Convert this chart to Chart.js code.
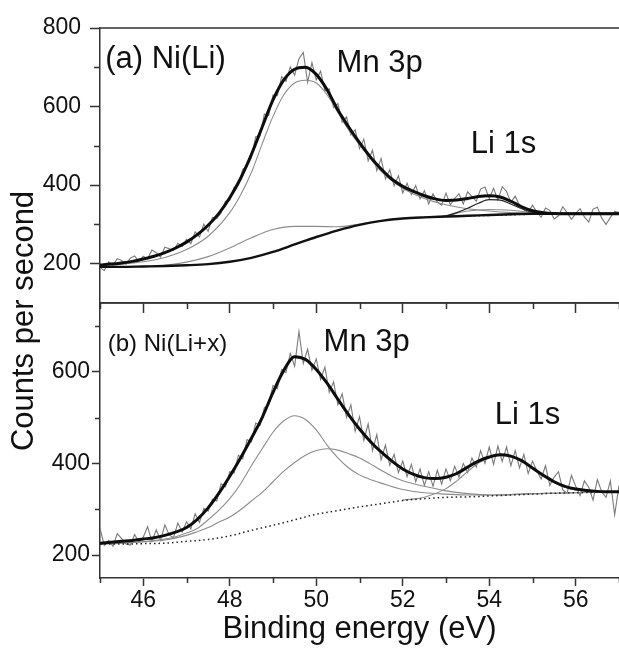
<!DOCTYPE html>
<html>
<head>
<meta charset="utf-8">
<script src="https://cdn.jsdelivr.net/npm/chart.js@4.4.1/dist/chart.umd.min.js"></script>
<style>
  html, body { margin: 0; padding: 0; background: #fff; }
  #wrap { position: relative; width: 619px; height: 650px; overflow: hidden; }
  #wrap canvas { position: absolute; left: 0; top: 0; }
</style>
</head>
<body>
<div id="wrap">
  <canvas id="panel-b" width="619" height="650"></canvas>
  <canvas id="panel-a" width="619" height="650"></canvas>
</div>
<script>
// measured spectra: one count every 0.1 eV starting at 45 eV
const rawStart = 45.0;
const rawStep = 0.1;

const rawA = [
  190, 183, 205, 196, 213, 208, 199, 214, 220, 206,
  219, 212, 235, 228, 217, 242, 238, 234, 252, 244,
  262, 251, 281, 268, 301, 282, 318, 315, 330, 359,
  361, 395, 400, 441, 447, 470, 523, 525, 581, 577,
  629, 628, 676, 664, 701, 680, 722, 738, 662, 712,
  668, 690, 640, 645, 598, 608, 560, 574, 528, 541,
  493, 517, 462, 489, 437, 468, 416, 439, 398, 424,
  380, 405, 376, 399, 365, 386, 352, 378, 357, 349,
  380, 350, 366, 378, 352, 383, 371, 359, 390, 395,
  366, 392, 362, 396, 384, 356, 372, 348, 337, 330,
  349, 331, 318, 342, 336, 314, 322, 345, 330, 313,
  328, 340, 319, 306, 339, 344, 316, 300, 318, 333,
  330
];

const rawB = [
  258, 221, 232, 219, 247, 236, 224, 222, 245, 228,
  239, 262, 230, 255, 232, 266, 244, 238, 270, 250,
  273, 257, 290, 271, 302, 296, 322, 318, 356, 349,
  382, 379, 418, 410, 452, 447, 488, 483, 522, 527,
  570, 563, 605, 598, 640, 612, 688, 618, 649, 603,
  628, 583, 610, 555, 578, 528, 552, 500, 528, 470,
  502, 450, 486, 428, 463, 408, 440, 396, 420, 380,
  405, 371, 398, 360, 388, 352, 382, 350, 385, 355,
  388, 362, 394, 370, 400, 380, 412, 392, 428, 400,
  436, 398, 438, 404, 436, 395, 428, 390, 420, 378,
  405, 384, 366, 395, 352, 370, 382, 342, 335, 374,
  350, 330, 362, 348, 320, 365, 338, 326, 362, 288,
  352
];

// (a) Ni(Li): fitted curves, [eV, counts]
const envelopeA = [[45,197],[45.25,199],[45.5,202],[45.75,206],[46,212],[46.25,219],[46.5,228],[46.75,240],[47,255],[47.25,274],[47.5,298],[47.75,328],[48,368],[48.25,417],[48.5,478],[48.75,548],[49,617],[49.25,668],[49.5,695],[49.75,700],[50,682],[50.25,643],[50.5,591],[50.75,548],[51,508],[51.25,472],[51.5,441],[51.75,415],[52,397],[52.25,384],[52.5,373],[52.75,365],[53,361],[53.25,362],[53.5,366],[53.75,371],[54,373],[54.25,370],[54.5,359],[54.75,345],[55,335],[55.25,330],[55.5,328],[56,327],[56.5,327],[57,327]];
const mnA = [[45,196],[45.5,199],[46,205],[46.5,216],[47,236],[47.5,270],[48,330],[48.25,375],[48.5,432],[48.75,505],[49,575],[49.25,630],[49.5,660],[49.75,667],[50,660],[50.25,630],[50.5,585],[50.75,540],[51,503],[51.5,435],[52,392],[52.5,366],[53,350],[53.5,340],[54,334],[54.5,330],[55,328],[56,327],[57,327]];
const satA = [[45,192],[46,193],[46.5,196],[47,204],[47.5,218],[48,240],[48.5,266],[49,287],[49.5,295],[50,295],[50.5,294],[51,301],[51.5,309],[52,315]];
const liA = [[52.5,318],[53,322],[53.25,330],[53.5,341],[53.75,354],[54,363],[54.25,362],[54.5,352],[54.75,340],[55,331],[55.25,328],[55.5,327]];
const li2A = [[53,322],[53.5,334],[54,338],[54.5,336],[55,330],[55.5,327]];
const shirleyA = [[45,192],[45.5,192],[46,193],[46.5,194],[47,196],[47.5,199],[48,205],[48.5,215],[49,230],[49.5,249],[50,268],[50.5,285],[51,299],[51.5,309],[52,315],[52.5,318],[53,320],[53.5,322],[54,324],[54.5,326],[55,327],[56,327],[57,327]];
const linearA = [[52.5,318],[53,320],[53.5,321.5],[54,323],[54.5,324.5],[55,326],[55.5,327]];

// (b) Ni(Li+x): fitted curves, [eV, counts]
const envelopeB = [[45,226],[45.25,228],[45.5,230],[45.75,232],[46,235],[46.25,238],[46.5,243],[46.75,250],[47,260],[47.25,278],[47.5,303],[47.75,335],[48,372],[48.25,412],[48.5,455],[48.75,500],[49,555],[49.25,603],[49.5,633],[49.75,627],[50,605],[50.25,575],[50.5,540],[50.75,506],[51,475],[51.25,448],[51.5,425],[51.75,405],[52,388],[52.25,376],[52.5,369],[52.75,367],[53,370],[53.25,378],[53.5,392],[53.75,405],[54,414],[54.25,419],[54.5,416],[54.75,406],[55,390],[55.25,374],[55.5,360],[55.75,350],[56,344],[56.25,341],[56.5,339],[56.75,338],[57,338]];
const mn1B = [[45,224],[45.5,226],[46,229],[46.5,235],[46.75,240],[47,248],[47.25,258],[47.5,277],[47.75,298],[48,323],[48.25,355],[48.5,395],[48.75,432],[49,468],[49.25,493],[49.5,504],[49.75,496],[50,473],[50.25,440],[50.5,412],[50.75,390],[51,375],[51.25,365],[51.5,357],[52,343],[52.5,336],[53,333],[53.5,331],[54,331],[54.5,332],[55,334],[55.5,335],[56,336],[56.5,337],[57,338]];
const mn2B = [[45,224],[45.5,226],[46,229],[46.5,233],[47,243],[47.25,251],[47.5,260],[47.75,272],[48,283],[48.25,299],[48.5,318],[48.75,337],[49,360],[49.25,383],[49.5,402],[49.75,418],[50,428],[50.25,432],[50.5,429],[50.75,421],[51,412],[51.25,399],[51.5,385],[51.75,372],[52,362],[52.5,350],[53,340],[53.5,334],[54,331],[54.5,332],[55,334],[55.5,335],[56,336],[57,338]];
const liB = [[52,320],[52.5,326],[53,345],[53.25,362],[53.5,382],[53.75,401],[54,412],[54.25,418],[54.5,414],[54.75,404],[55,388],[55.25,372],[55.5,358],[55.75,348],[56,342],[56.5,339],[57,338]];
const shirleyB = [[45,224],[45.5,224],[46,225],[46.5,226],[47,230],[47.5,234],[48,242],[48.5,254],[49,265],[49.5,277],[50,289],[50.5,297],[51,305],[51.5,312],[52,319],[52.5,323],[53,326],[53.5,327],[54,329],[54.5,331],[55,333],[55.5,335],[56,336],[56.5,337],[57,338]];

// axis ticks
const xMajor = [46, 48, 50, 52, 54, 56];
const xMinor = [45, 47, 49, 51, 53, 55, 57];
const yMajorA = [200, 400, 600, 800];
const yMinorA = [300, 500, 700];
const yMajorB = [200, 400, 600];
const yMinorB = [300, 500, 700];

// panel labels
const notesA = ['(a) Ni(Li)', 'Mn 3p', 'Li 1s'];
const notesB = ['(b) Ni(Li+x)', 'Mn 3p', 'Li 1s'];
const notePosA = [[45.12, 698], [50.47, 688], [53.57, 481]];
const notePosB = [[45.18, 646], [50.17, 646], [54.13, 486]];
const noteSizeA = [31, 31, 31];
const noteSizeB = [24, 31, 31];

const FONT = "'Liberation Sans', Arial, Helvetica, sans-serif";
const AXIS = '#333';
const INK = '#111';

function rawPoints(values) {
  return values.map((v, i) => [+(rawStart + i * rawStep).toFixed(2), v]);
}

function curve(data, color, width, extra) {
  return Object.assign({
    data: data,
    borderColor: color,
    borderWidth: width,
    pointRadius: 0,
    fill: false,
    cubicInterpolationMode: 'monotone'
  }, extra || {});
}

// frame top edge, short minor ticks, in-plot labels, shared y title
const panelDecor = {
  id: 'panelDecor',
  afterDraw(chart, args, opts) {
    const {ctx, chartArea: a} = chart;
    const x = chart.scales.x, y = chart.scales.y;
    ctx.save();
    ctx.strokeStyle = AXIS;
    ctx.lineWidth = 1.5;
    ctx.beginPath();
    ctx.moveTo(a.left, a.top);
    ctx.lineTo(a.right, a.top);
    opts.minorX.forEach(v => {
      const px = Math.round(x.getPixelForValue(v)) + 0.5;
      ctx.moveTo(px, a.bottom);
      ctx.lineTo(px, a.bottom + opts.minorLen);
    });
    opts.minorY.forEach(v => {
      const py = Math.round(y.getPixelForValue(v)) + 0.5;
      ctx.moveTo(a.left - opts.minorLen, py);
      ctx.lineTo(a.left, py);
    });
    ctx.stroke();

    ctx.fillStyle = INK;
    ctx.textAlign = 'left';
    ctx.textBaseline = 'alphabetic';
    opts.notes.forEach((text, i) => {
      ctx.font = opts.sizes[i] + 'px ' + FONT;
      ctx.fillText(text, x.getPixelForValue(opts.pos[i][0]), y.getPixelForValue(opts.pos[i][1]));
    });

    if (opts.yTitle) {
      ctx.translate(33, 321);
      ctx.rotate(-Math.PI / 2);
      ctx.textAlign = 'center';
      ctx.font = '31px ' + FONT;
      ctx.fillText(opts.yTitle, 0, 0);
    }
    ctx.restore();
  }
};

function panelScales(cfg) {
  return {
    x: {
      type: 'linear',
      min: 45,
      max: 57,
      afterBuildTicks: s => { s.ticks = xMajor.map(v => ({ value: v })); },
      afterFit: s => { s.height = cfg.xHeight; },
      border: { color: AXIS, width: 1.5 },
      grid: { drawOnChartArea: false, tickLength: cfg.tick, tickColor: AXIS, tickWidth: 1.5 },
      ticks: {
        display: cfg.xLabels,
        autoSkip: false,
        maxRotation: 0,
        padding: 1,
        color: INK,
        font: { family: FONT, size: 23 }
      },
      title: {
        display: cfg.xLabels,
        text: 'Binding energy (eV)',
        color: INK,
        font: { family: FONT, size: 31 },
        padding: { top: 0, bottom: 2 }
      }
    },
    y: {
      type: 'linear',
      min: cfg.yMin,
      max: cfg.yMax,
      afterBuildTicks: s => { s.ticks = cfg.yMajor.map(v => ({ value: v })); },
      afterFit: s => { s.width = 100; },
      border: { color: AXIS, width: 1.5 },
      grid: { drawOnChartArea: false, tickLength: cfg.tick, tickColor: AXIS, tickWidth: 1.5 },
      ticks: {
        padding: cfg.yPad,
        color: INK,
        font: { family: FONT, size: 23 }
      }
    }
  };
}

const baseOptions = {
  responsive: false,
  animation: false,
  devicePixelRatio: 1,
  events: []
};

new Chart(document.getElementById('panel-a'), {
  type: 'line',
  data: {
    datasets: [
      curve(envelopeA, '#0d0d0d', 3),
      curve(shirleyA, '#111', 2.4),
      curve(liA, '#222', 1.2),
      curve(linearA, '#222', 1.5, { borderDash: [1.5, 3] }),
      curve(li2A, '#8c8c8c', 1.1),
      curve(mnA, '#8c8c8c', 1.1),
      curve(satA, '#8c8c8c', 1.1),
      curve(rawPoints(rawA), '#7a7a7a', 1.1, { cubicInterpolationMode: 'default', tension: 0 })
    ]
  },
  options: Object.assign({}, baseOptions, {
    layout: { padding: { top: 28, bottom: 330, left: 0, right: 0 } },
    plugins: {
      legend: { display: false },
      tooltip: { enabled: false },
      panelDecor: { minorX: xMinor, minorY: yMinorA, minorLen: 6, notes: notesA, pos: notePosA, sizes: noteSizeA }
    },
    scales: panelScales({ xHeight: 17, xLabels: false, tick: 10, yMin: 100, yMax: 800, yMajor: yMajorA, yPad: 9 })
  }),
  plugins: [panelDecor]
});

new Chart(document.getElementById('panel-b'), {
  type: 'line',
  data: {
    datasets: [
      curve(envelopeB, '#0d0d0d', 3),
      curve(shirleyB, '#222', 1.5, { borderDash: [1.5, 3] }),
      curve(liB, '#8c8c8c', 1.1),
      curve(mn1B, '#8c8c8c', 1.1),
      curve(mn2B, '#8c8c8c', 1.1),
      curve(rawPoints(rawB), '#7a7a7a', 1.1, { cubicInterpolationMode: 'default', tension: 0 })
    ]
  },
  options: Object.assign({}, baseOptions, {
    layout: { padding: { top: 303, bottom: 0, left: 0, right: 0 } },
    plugins: {
      legend: { display: false },
      tooltip: { enabled: false },
      panelDecor: { minorX: xMinor, minorY: yMinorB, minorLen: 5, notes: notesB, pos: notePosB, sizes: noteSizeB, yTitle: 'Counts per second' }
    },
    scales: panelScales({ xHeight: 72, xLabels: true, tick: 8, yMin: 150, yMax: 750, yMajor: yMajorB, yPad: 2 })
  }),
  plugins: [panelDecor]
});
</script>
</body>
</html>
